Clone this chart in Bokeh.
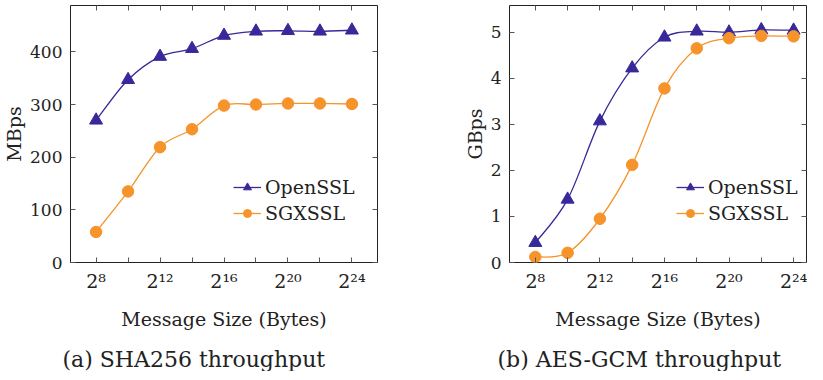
from bokeh.plotting import figure
from bokeh.models import (ColumnDataSource, FixedTicker, LinearAxis, Range1d,
                          Legend, LegendItem, Title)
from bokeh.layouts import row
from bokeh.embed import file_html
from bokeh.resources import INLINE

# ---------------- data ----------------
exponents = [8, 10, 12, 14, 16, 18, 20, 22, 24]          # message size = 2**exponent bytes
labeled_exponents = [8, 12, 16, 20, 24]
unlabeled_exponents = [10, 14, 18, 22]
sha_openssl = [270, 347, 391, 406, 431, 439, 440, 439, 441]   # MBps
sha_sgxssl = [58, 135, 219, 253, 298, 300, 302, 302, 301]     # MBps
aes_openssl = [0.43, 1.37, 3.07, 4.22, 4.89, 5.02, 5.00, 5.05, 5.04]  # GBps
aes_sgxssl = [0.12, 0.21, 0.95, 2.12, 3.78, 4.65, 4.87, 4.92, 4.91]   # GBps
x_tick_labels = {8: "2⁸", 12: "2¹²", 16: "2¹⁶", 20: "2²⁰", 24: "2²⁴"}
sha_yticks = [0, 100, 200, 300, 400]
aes_yticks = [0, 1, 2, 3, 4, 5]
series_names = ["OpenSSL", "SGXSSL"]
x_title = "Message Size (Bytes)"

BLUE = "#38299a"
ORANGE = "#f6932a"
FONT = "DejaVu Serif"
TXT = "#222222"
TICK = "#555555"
H = 371


def smooth_source(xs, ys, k=0.17):
    """Bezier segments through the data points (cardinal spline, like pgfplots 'smooth')."""
    n = len(xs)
    tx, ty = [], []
    for i in range(n):
        a = max(i - 1, 0)
        b = min(i + 1, n - 1)
        tx.append((xs[b] - xs[a]) * k)
        ty.append((ys[b] - ys[a]) * k)
    d = dict(x0=[], y0=[], x1=[], y1=[], cx0=[], cy0=[], cx1=[], cy1=[])
    for i in range(n - 1):
        d["x0"].append(xs[i]); d["y0"].append(ys[i])
        d["x1"].append(xs[i + 1]); d["y1"].append(ys[i + 1])
        d["cx0"].append(xs[i] + tx[i]); d["cy0"].append(ys[i] + ty[i])
        d["cx1"].append(xs[i + 1] - tx[i + 1]); d["cy1"].append(ys[i + 1] - ty[i + 1])
    return ColumnDataSource(d)


def mirror_axis(ticks):
    # ticks only (as minor ticks, so that no labels are drawn)
    return LinearAxis(ticker=FixedTicker(ticks=[], minor_ticks=ticks),
                      major_label_standoff=0, major_tick_in=0, major_tick_out=0,
                      minor_tick_in=5, minor_tick_out=0, minor_tick_line_color=TICK,
                      major_tick_line_color=None, axis_line_color=None)


def make_fig(width, xr, yr, yticks, ylabel, ys_open, ys_sgx, caption,
             border_left, border_right, ylabel_standoff, caption_offset, legend_x):
    p = figure(width=width, height=H, x_range=Range1d(*xr), y_range=Range1d(*yr),
               output_backend="svg", toolbar_location=None,
               min_border_left=border_left, min_border_right=border_right,
               min_border_top=5, min_border_bottom=0)
    p.grid.visible = False
    p.outline_line_color = "#222222"
    p.outline_line_width = 1
    p.background_fill_color = "white"
    p.border_fill_color = "white"

    xa = p.xaxis[0]
    xa.ticker = FixedTicker(ticks=labeled_exponents, minor_ticks=unlabeled_exponents)
    xa.major_label_overrides = {e: x_tick_labels[e] for e in labeled_exponents}
    xa.major_label_text_font_size = "19px"
    xa.major_label_standoff = 7
    xa.minor_tick_in = 5
    xa.minor_tick_out = 0
    xa.minor_tick_line_color = TICK
    ya = p.yaxis[0]
    ya.ticker = FixedTicker(ticks=yticks)
    ya.axis_label = ylabel
    ya.axis_label_standoff = ylabel_standoff
    ya.axis_label_text_font = FONT
    ya.axis_label_text_font_size = "19px"
    ya.axis_label_text_font_style = "normal"
    ya.axis_label_text_color = TXT
    ya.major_label_text_font_size = "17px"
    ya.major_label_standoff = 8
    ya.minor_tick_line_color = None
    for ax in (xa, ya):
        ax.major_label_text_font = FONT
        ax.major_label_text_color = TXT
        ax.major_tick_in = 5
        ax.major_tick_out = 0
        ax.major_tick_line_color = TICK
        ax.axis_line_color = None
    p.add_layout(mirror_axis(yticks), "right")
    p.add_layout(mirror_axis(exponents), "above")

    b1 = p.bezier("x0", "y0", "x1", "y1", "cx0", "cy0", "cx1", "cy1",
                  source=smooth_source(exponents, ys_open), line_color=BLUE, line_width=1.3)
    s1 = p.scatter(exponents, ys_open, marker="triangle", size=13,
                   fill_color=BLUE, line_color=BLUE)
    b2 = p.bezier("x0", "y0", "x1", "y1", "cx0", "cy0", "cx1", "cy1",
                  source=smooth_source(exponents, ys_sgx), line_color=ORANGE, line_width=1.3)
    s2 = p.scatter(exponents, ys_sgx, marker="circle", size=11.5,
                   fill_color=ORANGE, line_color=ORANGE)

    legend = Legend(items=[LegendItem(label=series_names[0], renderers=[b1, s1]),
                           LegendItem(label=series_names[1], renderers=[b2, s2])],
                    location=(legend_x, 38), padding=0, margin=0, border_line_color=None,
                    background_fill_alpha=0, glyph_width=28, glyph_height=20,
                    label_standoff=4, spacing=4, label_text_font=FONT,
                    label_text_font_size="19px", label_text_color=TXT)
    p.add_layout(legend)

    # x axis title and the sub-figure caption, stacked below the tick labels
    t1 = Title(text=x_title, align="center", vertical_align="top", text_font=FONT,
               text_font_size="19px", text_font_style="normal", text_color=TXT,
               standoff=26)
    p.add_layout(t1, "below")
    t2 = Title(text=caption, align="left", vertical_align="bottom", offset=caption_offset,
               text_font=FONT, text_font_size="22px", text_font_style="normal",
               text_color=TXT, standoff=0)
    p.add_layout(t2, "below")
    return p


p1 = make_fig(400, (6.4, 25.6), (0, 488), sha_yticks, "MBps", sha_openssl, sha_sgxssl,
              "(a) SHA256 throughput", 66, 23, 2, -8, 163)
p2 = make_fig(407, (6.4, 24.8), (0, 5.58), aes_yticks, "GBps", aes_openssl, aes_sgxssl,
              "(b) AES-GCM throughput", 109, 1, 2, -12, 167)

layout = row(p1, p2)
open("out.html", "w").write(file_html(layout, INLINE))
